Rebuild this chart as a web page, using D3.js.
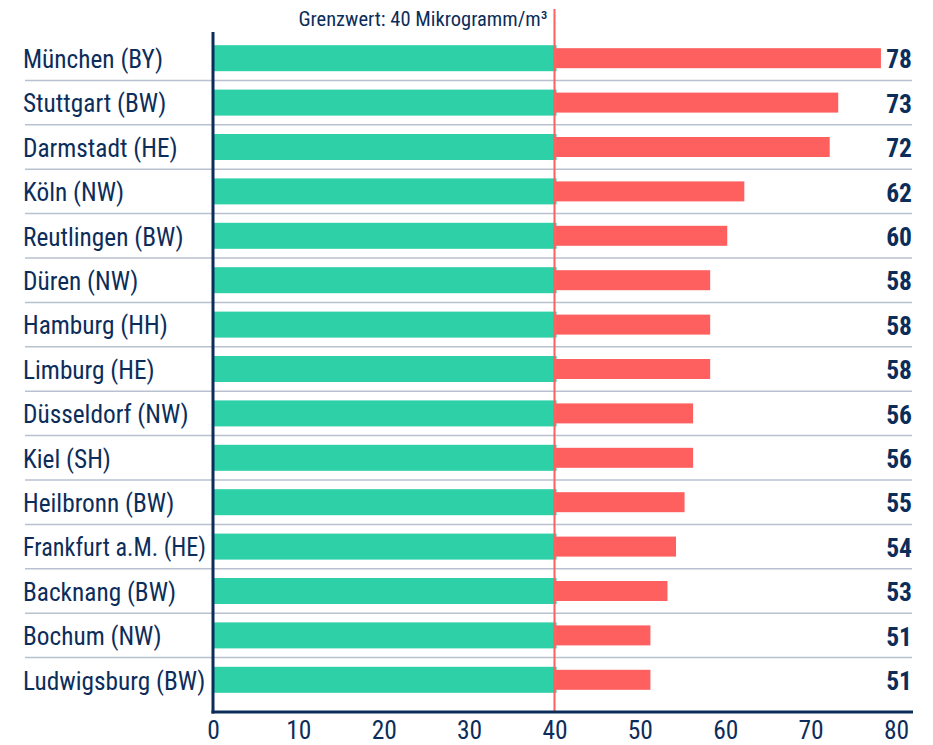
<!DOCTYPE html>
<html>
<head>
<meta charset="utf-8">
<script src="https://cdn.jsdelivr.net/npm/d3@7"></script>
<style>
  body { margin: 0; background: #fff; }
  text { font-family: "Roboto Condensed", Roboto, sans-serif; fill: #0c2d5a; }
</style>
</head>
<body>
<script>
const cities = ["München (BY)", "Stuttgart (BW)", "Darmstadt (HE)", "Köln (NW)", "Reutlingen (BW)",
  "Düren (NW)", "Hamburg (HH)", "Limburg (HE)", "Düsseldorf (NW)", "Kiel (SH)",
  "Heilbronn (BW)", "Frankfurt a.M. (HE)", "Backnang (BW)", "Bochum (NW)", "Ludwigsburg (BW)"];
const values = [78, 73, 72, 62, 60, 58, 58, 58, 56, 56, 55, 54, 53, 51, 51];
const limit = 40;
const xTicks = [0, 10, 20, 30, 40, 50, 60, 70, 80];
const limitLabel = "Grenzwert: 40 Mikrogramm/m³";

const W = 933, H = 745;
const navy = "#0c2d5a";
const green = "#2dd0a7";
const red = "#fe5f5f";
const grid = "#b9c1d0";

const svg = d3.select("body").append("svg")
  .attr("width", W).attr("height", H);

const x = d3.scaleLinear().domain([0, 80]).range([213, 896]);
const y = d3.scaleBand().domain(cities).range([36, 702]).padding(0);
const axisY = 712;
const mid = d => y(d) + y.bandwidth() / 2;

// grid lines between rows
svg.append("g").selectAll("line")
  .data(cities.slice(1))
  .join("line")
  .attr("x1", 25).attr("x2", 912)
  .attr("y1", d => y(d)).attr("y2", d => y(d))
  .attr("stroke", grid).attr("stroke-width", 1.5);

// green part (up to the limit)
svg.append("g").selectAll("rect")
  .data(cities)
  .join("rect")
  .attr("x", x(0))
  .attr("width", x(limit) - x(0) + 2)
  .attr("y", d => mid(d) - 13)
  .attr("height", 26)
  .attr("fill", green);

// red part (above the limit)
svg.append("g").selectAll("rect")
  .data(cities)
  .join("rect")
  .attr("x", x(limit) + 1.5)
  .attr("width", (d, i) => x(values[i]) - x(limit) + 0.5)
  .attr("y", d => mid(d) - 10)
  .attr("height", 20)
  .attr("fill", red);

// limit line
svg.append("line")
  .attr("x1", x(limit)).attr("x2", x(limit))
  .attr("y1", 9).attr("y2", axisY)
  .attr("stroke", red).attr("stroke-width", 2);

svg.append("text")
  .attr("x", x(limit) - 7).attr("y", 26)
  .attr("text-anchor", "end")
  .attr("font-size", 20.5)
  .text(limitLabel);

// city labels (squeeze the longest ones so they stay clear of the axis)
const maxLabel = x(0) - 23 - 7;
svg.append("g").selectAll("text")
  .data(cities)
  .join("text")
  .attr("x", 23)
  .attr("y", d => mid(d) + 1)
  .attr("dy", "0.35em")
  .attr("font-size", 25.3)
  .text(d => d)
  .each(function () {
    if (this.getComputedTextLength() > maxLabel) {
      d3.select(this).attr("textLength", maxLabel).attr("lengthAdjust", "spacingAndGlyphs");
    }
  });

// value labels
svg.append("g").selectAll("text")
  .data(cities)
  .join("text")
  .attr("x", 912)
  .attr("y", d => mid(d) + 1)
  .attr("dy", "0.36em")
  .attr("text-anchor", "end")
  .attr("font-size", 25.5)
  .attr("font-weight", "bold")
  .text((d, i) => values[i]);

// axes
svg.append("line")
  .attr("x1", x(0)).attr("x2", x(0))
  .attr("y1", 32).attr("y2", axisY + 1.5)
  .attr("stroke", navy).attr("stroke-width", 3);

svg.append("line")
  .attr("x1", x(0) - 1.5).attr("x2", 913)
  .attr("y1", axisY).attr("y2", axisY)
  .attr("stroke", navy).attr("stroke-width", 3);

const xAxis = svg.append("g")
  .attr("transform", `translate(0, ${axisY})`)
  .attr("font-family", null).attr("font-size", null)
  .call(d3.axisBottom(x).tickValues(xTicks).tickSize(0).tickPadding(0));
xAxis.select(".domain").remove();
xAxis.selectAll("text")
  .attr("y", 26.5)
  .attr("dy", null)
  .attr("font-size", 25.5)
  .style("fill", navy);
</script>
</body>
</html>
